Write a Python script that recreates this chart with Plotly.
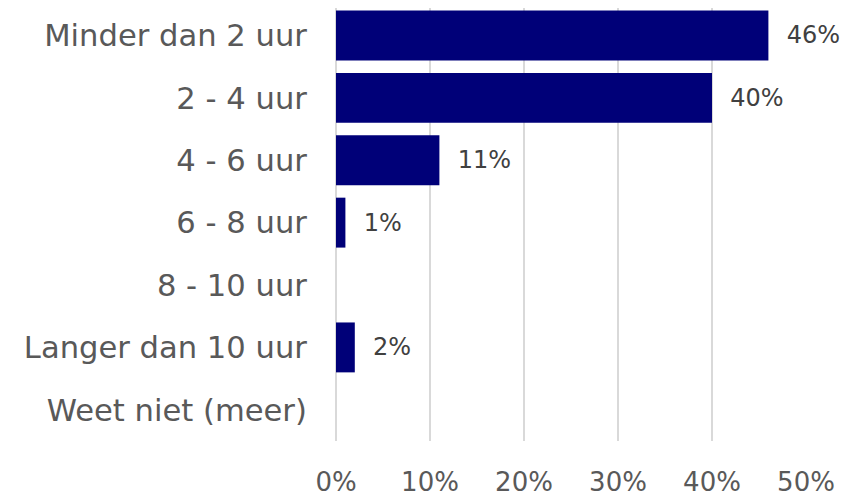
import plotly.graph_objects as go

categories = ["Minder dan 2 uur", "2 - 4 uur", "4 - 6 uur", "6 - 8 uur",
              "8 - 10 uur", "Langer dan 10 uur", "Weet niet (meer)"]
values = [46, 40, 11, 1, 0, 2, 0]
tick_vals = [0, 10, 20, 30, 40, 50]
tick_text = ["0%", "10%", "20%", "30%", "40%", "50%"]

labels = [("  %d%%" % v) if v > 0 else "" for v in values]

FONT = "Century Gothic, DejaVu Sans, sans-serif"

fig = go.Figure(go.Bar(
    x=values,
    y=categories,
    orientation="h",
    marker=dict(color="#000078", line=dict(width=0)),
    text=labels,
    textposition="outside",
    textfont=dict(family=FONT, size=24, color="#404040"),
    cliponaxis=False,
    constraintext="none",
    hoverinfo="skip",
))

# page body has an 8px margin, so the figure is sized/offset to compensate
fig.update_layout(
    width=840, height=488,
    margin=dict(l=328, r=42, t=0, b=55, autoexpand=False),
    paper_bgcolor="white", plot_bgcolor="white",
    bargap=0.2,
    showlegend=False,
    font=dict(family=FONT, color="#595959"),
)

fig.update_xaxes(
    range=[0, 50],
    tickvals=tick_vals, ticktext=tick_text,
    showgrid=True, gridcolor="#d9d9d9", gridwidth=1.5,
    zeroline=True, zerolinecolor="#d9d9d9", zerolinewidth=1.5,
    showline=False,
    ticks="outside", ticklen=18, tickcolor="rgba(0,0,0,0)",
    tickfont=dict(family=FONT, size=26, color="#595959"),
    automargin=False,
    fixedrange=True,
)
fig.update_yaxes(
    type="category",
    categoryorder="array", categoryarray=categories,
    range=[6.5, -0.44],
    showgrid=False, zeroline=False, showline=False,
    ticks="outside", ticklen=22, tickcolor="rgba(0,0,0,0)",
    tickfont=dict(family=FONT, size=30.6, color="#595959"),
    automargin=False,
    fixedrange=True,
)

fig.write_html("out.html")
